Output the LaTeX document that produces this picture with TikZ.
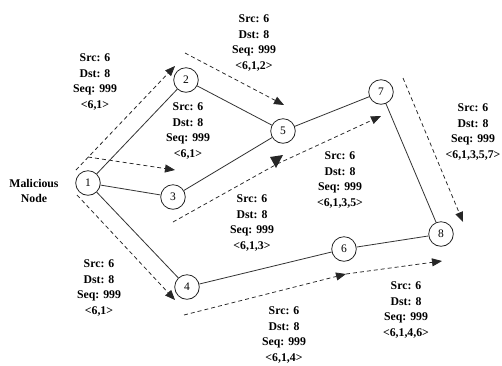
\documentclass[tikz,border=0pt]{standalone}
\usepackage{fontspec}
\setmainfont{Liberation Serif}
\usetikzlibrary{arrows.meta}
\tikzset{
  host/.style={circle, draw=black!85, line width=0.8pt, minimum size=24.6pt, inner sep=0pt,
    font=\fontsize{11.5}{12}\selectfont},
  link/.style={draw=black!80, line width=0.8pt},
  flow/.style={draw=black!85, line width=0.75pt, dash pattern=on 4pt off 3pt,
    -{Triangle[length=10pt,width=8pt]}},
  flowseg/.style={draw=black!85, line width=0.75pt, dash pattern=on 4pt off 3pt},
  pkt/.style={align=center, inner sep=0pt,
    font=\bfseries\fontsize{11.8}{15.7}\selectfont},
}
\begin{document}
\begin{tikzpicture}[x=1pt,y=-1pt]
\useasboundingbox[fill=white] (0,0) rectangle (502,365);

% hosts
\node[host] (n1) at (88,183) {1};
\node[host] (n2) at (186,80) {2};
\node[host] (n3) at (173,197) {3};
\node[host] (n4) at (187,287) {4};
\node[host] (n5) at (283,131) {5};
\node[host] (n6) at (344,249) {6};
\node[host] (n7) at (381,92) {7};
\node[host] (n8) at (441,234) {8};

% links
\draw[link] (n1) -- (n2);
\draw[link] (n1) -- (n3);
\draw[link] (n1) -- (n4);
\draw[link] (n2) -- (n5);
\draw[link] (n3) -- (n5);
\draw[link] (n5) -- (n7);
\draw[link] (n7) -- (n8);
\draw[link] (n4) -- (n6);
\draw[link] (n6) -- (n8);

% request propagation paths
\coordinate (a0) at (76,170);   \coordinate (a1) at (175,66);
\coordinate (b0) at (88,157);   \coordinate (b1) at (175,170);
\coordinate (c0) at (185,53);   \coordinate (c1) at (284,105);
\coordinate (d0) at (173,222);  \coordinate (dm) at (277,164);
\coordinate (d1) at (381,116);
\coordinate (e0) at (77,195);   \coordinate (e1) at (175,300);
\coordinate (f0) at (184,315);  \coordinate (fm) at (346,274);
\coordinate (f1) at (442,261);
\coordinate (g0) at (403,78);   \coordinate (g1) at (463,222);

\draw[flow] (a0) -- (a1);
\draw[flow] (b0) -- (b1);
\draw[flow] (c0) -- (c1);
\draw[flowseg] (d0) -- (dm);
\draw[flow] (dm) -- (d1);
\fill[black!85] (270,157) -- (283,155) -- (276,168) -- cycle;
\draw[flow] (e0) -- (e1);
\draw[flow] (f0) -- (fm);
\draw[flow] (fm) -- (f1);
\draw[flow] (g0) -- (g1);

% packet headers
\node[pkt] (l1) at (95,82)   {Src: 6\\Dst: 8\\Seq: 999\\<6,1>};
\node[pkt] (l2) at (188,131) {Src: 6\\Dst: 8\\Seq: 999\\<6,1>};
\node[pkt] (l3) at (254,43)  {Src: 6\\Dst: 8\\Seq: 999\\<6,1,2>};
\node[pkt] (l4) at (473,132) {Src: 6\\Dst: 8\\Seq: 999\\<6,1,3,5,7>};
\node[pkt] (l5) at (340,180) {Src: 6\\Dst: 8\\Seq: 999\\<6,1,3,5>};
\node[pkt] (l6) at (252,223) {Src: 6\\Dst: 8\\Seq: 999\\<6,1,3>};
\node[pkt] (l7) at (99,288)  {Src: 6\\Dst: 8\\Seq: 999\\<6,1>};
\node[pkt] (l8) at (284,335) {Src: 6\\Dst: 8\\Seq: 999\\<6,1,4>};
\node[pkt] (l9) at (406,310) {Src: 6\\Dst: 8\\Seq: 999\\<6,1,4,6>};
\node[pkt] (mal) at (34,191) {Malicious\\Node};
\end{tikzpicture}
\end{document}
